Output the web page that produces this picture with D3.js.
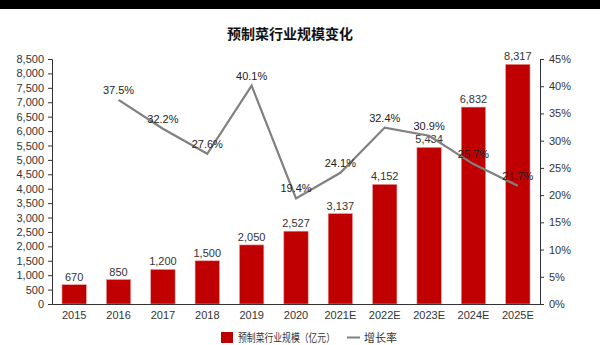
<!DOCTYPE html>
<html>
<head>
<meta charset="utf-8">
<script src="https://cdn.jsdelivr.net/npm/d3@7"></script>
<style>
  html, body { margin: 0; padding: 0; background: #fff; }
  svg { display: block; font-family: "Liberation Sans", Arial, "Noto Sans CJK SC", sans-serif; }
</style>
</head>
<body>
<svg id="chart" width="600" height="345"></svg>
<script>
// Market size of prepared dishes (100 million CNY) and year-on-year growth
const years = ["2015", "2016", "2017", "2018", "2019", "2020", "2021E", "2022E", "2023E", "2024E", "2025E"];
const scaleValues = [670, 850, 1200, 1500, 2050, 2527, 3137, 4152, 5434, 6832, 8317];
const growthRates = [null, 37.5, 32.2, 27.6, 40.1, 19.4, 24.1, 32.4, 30.9, 25.7, 21.7];
const leftTicks = d3.range(0, 8501, 500);
const rightTicks = d3.range(0, 46, 5);

const svg = d3.select("#chart");
const W = 600, H = 345;
const margin = { top: 59, right: 60, bottom: 41, left: 52 };
const x0 = margin.left, x1 = W - margin.right, y0 = H - margin.bottom, y1 = margin.top;

// dark band across the top edge
svg.append("rect").attr("x", 0).attr("y", 0).attr("width", W).attr("height", 9).attr("fill", "#000");

svg.append("text")
  .attr("x", 290).attr("y", 39)
  .attr("text-anchor", "middle")
  .attr("font-size", 14).attr("font-weight", "bold").attr("fill", "#111")
  .attr("font-family", "'Noto Sans CJK SC', sans-serif")
  .text("预制菜行业规模变化");

const x = d3.scaleBand().domain(years).range([x0, x1]).paddingInner(0.45).paddingOuter(0.225);
const yL = d3.scaleLinear().domain([0, 8500]).range([y0, y1]);
const yR = d3.scaleLinear().domain([0, 45]).range([y0, y1]);

// bars
svg.append("g").selectAll("rect").data(scaleValues).join("rect")
  .attr("x", (d, i) => x(years[i]))
  .attr("y", d => yL(d))
  .attr("width", x.bandwidth())
  .attr("height", d => y0 - yL(d))
  .attr("fill", "#C00000")
  .attr("stroke", "#e9a3a3").attr("stroke-width", 0.6);

// left axis
const axL = svg.append("g").attr("transform", `translate(${x0},0)`)
  .call(d3.axisLeft(yL).tickValues(leftTicks).tickFormat(d3.format(",")).tickSize(4).tickSizeOuter(4));
// right axis
const axR = svg.append("g").attr("transform", `translate(${x1},0)`)
  .call(d3.axisRight(yR).tickValues(rightTicks).tickFormat(d => d + "%").tickSize(4).tickSizeOuter(4));
// bottom axis
const axB = svg.append("g").attr("transform", `translate(0,${y0})`)
  .call(d3.axisBottom(x).tickSize(0).tickSizeOuter(0));

[axL, axR, axB].forEach(g => {
  g.selectAll("path, line").attr("stroke", "#333").attr("stroke-width", 1);
  g.selectAll("text").attr("font-size", 11).attr("fill", "#333")
    .attr("font-family", "'Liberation Sans', Arial, sans-serif");
});
axL.selectAll("text").attr("dx", -1);
axR.selectAll("text").attr("dx", 2);
axB.selectAll("text").attr("dy", "1.05em");

// bar value labels
svg.append("g").selectAll("text").data(scaleValues).join("text")
  .attr("x", (d, i) => x(years[i]) + x.bandwidth() / 2)
  .attr("y", d => yL(d) - 4)
  .attr("text-anchor", "middle")
  .attr("font-size", 11).attr("fill", "#333")
  .text(d => d3.format(",")(d));

// growth line
const pts = growthRates.map((g, i) => ({ g, i })).filter(p => p.g !== null);
const line = d3.line().x(p => x(years[p.i]) + x.bandwidth() / 2).y(p => yR(p.g));
svg.append("path").datum(pts)
  .attr("d", line)
  .attr("fill", "none").attr("stroke", "#808080").attr("stroke-width", 2.2)
  .attr("stroke-linejoin", "miter");

svg.append("g").selectAll("text").data(pts).join("text")
  .attr("x", p => x(years[p.i]) + x.bandwidth() / 2)
  .attr("y", p => yR(p.g) - 6)
  .attr("text-anchor", "middle")
  .attr("font-size", 11).attr("fill", "#222")
  .text(p => p.g.toFixed(1) + "%");

// legend
const lg = svg.append("g").attr("font-size", 11).attr("fill", "#333");
lg.append("rect").attr("x", 221).attr("y", 332).attr("width", 12).attr("height", 11).attr("fill", "#C00000");
lg.append("text").attr("x", 238).attr("y", 341.5)
  .attr("font-family", "'Noto Sans CJK SC', sans-serif").attr("fill", "#333")
  .attr("textLength", 97).attr("lengthAdjust", "spacingAndGlyphs")
  .text("预制菜行业规模（亿元）");
lg.append("line").attr("x1", 347).attr("x2", 360).attr("y1", 337.5).attr("y2", 337.5)
  .attr("stroke", "#808080").attr("stroke-width", 2);
lg.append("text").attr("x", 364).attr("y", 341.5)
  .attr("font-family", "'Noto Sans CJK SC', sans-serif").attr("fill", "#333").text("增长率");
</script>
</body>
</html>
